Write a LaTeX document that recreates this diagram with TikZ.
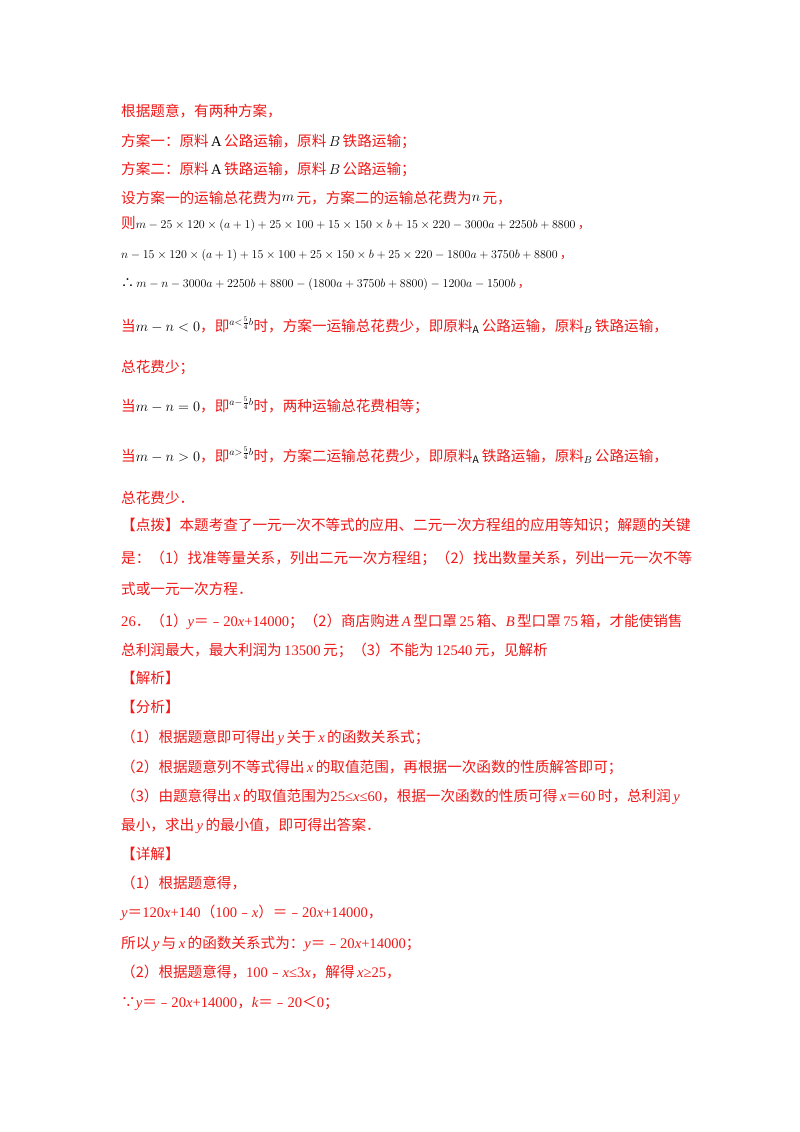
\documentclass[tikz,border=0pt]{standalone}
\usepackage{fontspec}
\setmainfont{Noto Sans CJK SC}
\newfontfamily\tm{Liberation Serif}
\definecolor{rd}{HTML}{F01818}
\newcommand{\en}[1]{{\tm #1}}
\newcommand{\ei}[1]{{\tm\itshape #1}}
\newcommand{\bk}[1]{{\color{black}#1}}
\begin{document}
\begin{tikzpicture}[x=1pt,y=-1pt,
  ln/.style={anchor=base west,inner sep=0pt,text=rd,font=\fontsize{14.6}{16}\selectfont},
  mth/.style={anchor=base west,inner sep=0pt,text=rd,font=\fontsize{13}{15}\selectfont}]
\useasboundingbox[fill=white] (0,0) rectangle (800,1132);
\node[ln] (l1) at (121,116) {根据题意，有两种方案，};
\node[ln] (l2) at (121,146) {方案一：原料\bk{\,\en{A}\,}公路运输，原料\bk{\,$B$\,}铁路运输；};
\node[ln] (l3) at (121,174) {方案二：原料\bk{\,\en{A}\,}铁路运输，原料\bk{\,$B$\,}公路运输；};
\node[ln] (l4) at (121,203) {设方案一的运输总花费为\bk{\raisebox{2pt}{$m$}}\,元，方案二的运输总花费为\bk{\raisebox{2pt}{$n$}}\,元，};
\node[mth] (l5) at (121,228) {{\fontsize{14.6}{16}\selectfont 则}\bk{$m-25\times120\times(a+1)+25\times100+15\times150\times b+15\times220-3000a+2250b+8800$}\,，};
\node[mth] (l6) at (121,258) {\bk{$n-15\times120\times(a+1)+15\times100+25\times150\times b+25\times220-1800a+3750b+8800$}\,，};
\node[mth] (l7) at (121,287) {\bk{∴\,$m-n-3000a+2250b+8800-(1800a+3750b+8800)-1200a-1500b$}\,，};
\node[ln] (l8) at (121,331) {当\bk{$m-n<0$}，即\bk{$^{a<\frac{5}{4}b}$}时，方案一运输总花费少，即原料\bk{$_{\mathrm{A}}$}\,公路运输，原料\bk{$_{B}$}\,铁路运输，};
\node[ln] (l9) at (121,372) {总花费少；};
\node[ln] (l10) at (121,411) {当\bk{$m-n=0$}，即\bk{$^{a-\frac{5}{4}b}$}时，两种运输总花费相等；};
\node[ln] (l11) at (121,461) {当\bk{$m-n>0$}，即\bk{$^{a>\frac{5}{4}b}$}时，方案二运输总花费少，即原料\bk{$_{\mathrm{A}}$}\,铁路运输，原料\bk{$_{B}$}\,公路运输，};
\node[ln] (l12) at (121,503) {总花费少．};
\node[ln] (l13) at (121,530) {【点拨】本题考查了一元一次不等式的应用、二元一次方程组的应用等知识；解题的关键};
\node[ln] (l14) at (121,563) {是：（1）找准等量关系，列出二元一次方程组；（2）找出数量关系，列出一元一次不等};
\node[ln] (l15) at (121,594) {式或一元一次方程．};
\node[ln] (l16) at (121,626) {\en{26}．（1）\ei{y}＝﹣\en{20}\ei{x}\en{+14000}；（2）商店购进\,\ei{A}\,型口罩\,\en{25}\,箱、\ei{B}\,型口罩\,\en{75}\,箱，才能使销售};
\node[ln] (l17) at (121,655) {总利润最大，最大利润为\,\en{13500}\,元；（3）不能为\,\en{12540}\,元，见解析};
\node[ln] (l18) at (121,683) {【解析】};
\node[ln] (l19) at (121,712) {【分析】};
\node[ln] (l20) at (121,742) {（1）根据题意即可得出\,\ei{y}\,关于\,\ei{x}\,的函数关系式；};
\node[ln] (l21) at (121,772) {（2）根据题意列不等式得出\,\ei{x}\,的取值范围，再根据一次函数的性质解答即可；};
\node[ln] (l22) at (121,801) {（3）由题意得出\,\ei{x}\,的取值范围为\en{25≤}\ei{x}\en{≤60}，根据一次函数的性质可得\,\ei{x}＝\en{60}\,时，总利润\,\ei{y}};
\node[ln] (l23) at (121,830) {最小，求出\,\ei{y}\,的最小值，即可得出答案．};
\node[ln] (l24) at (121,859) {【详解】};
\node[ln] (l25) at (121,888) {（1）根据题意得，};
\node[ln] (l26) at (121,917) {\ei{y}＝\en{120}\ei{x}\en{+140}（\en{100}﹣\ei{x}）＝﹣\en{20}\ei{x}\en{+14000}，};
\node[ln] (l27) at (121,948) {所以\,\ei{y}\,与\,\ei{x}\,的函数关系式为：\ei{y}＝﹣\en{20}\ei{x}\en{+14000}；};
\node[ln] (l28) at (121,977) {（2）根据题意得，\en{100}﹣\ei{x}\en{≤3}\ei{x}，解得\,\ei{x}\en{≥25}，};
\node[ln] (l29) at (121,1007) {∵\ei{y}＝﹣\en{20}\ei{x}\en{+14000}，\ei{k}＝﹣\en{20}＜\en{0}；};
\end{tikzpicture}
\end{document}
